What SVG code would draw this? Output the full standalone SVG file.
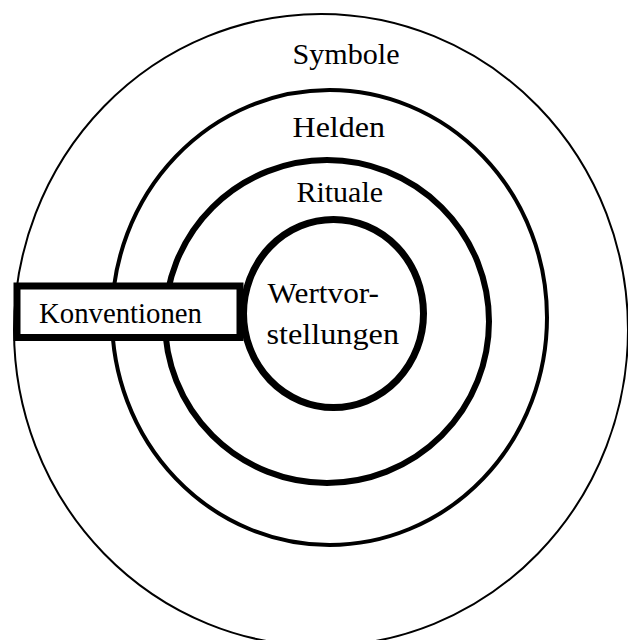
<svg xmlns="http://www.w3.org/2000/svg" width="628" height="640" viewBox="0 0 628 640">
  <style>
    .ring { fill: none; stroke: #000; }
    .lbl { font-family: "Liberation Serif", "Times New Roman", serif; font-size: 30px; fill: #000; }
  </style>
  <rect x="0" y="0" width="628" height="640" fill="#fff"/>
  <g id="symbole">
    <ellipse class="ring" cx="321" cy="330" rx="307" ry="316" stroke-width="2"/>
    <text class="lbl" x="292.5" y="64" textLength="107" lengthAdjust="spacingAndGlyphs">Symbole</text>
  </g>
  <g id="helden">
    <ellipse class="ring" cx="329.5" cy="317.5" rx="217.5" ry="227.5" stroke-width="4"/>
    <text class="lbl" x="292.5" y="137" textLength="92.5" lengthAdjust="spacingAndGlyphs">Helden</text>
  </g>
  <g id="rituale">
    <ellipse class="ring" cx="327" cy="321.5" rx="162" ry="161.5" stroke-width="6"/>
    <text class="lbl" x="296.5" y="201.5" textLength="86.5" lengthAdjust="spacingAndGlyphs">Rituale</text>
  </g>
  <g id="wertvorstellungen">
    <ellipse class="ring" cx="333.5" cy="313.5" rx="90" ry="94" stroke-width="7"/>
    <text class="lbl" x="267.5" y="303" textLength="111.5" lengthAdjust="spacingAndGlyphs">Wertvor-</text>
    <text class="lbl" x="266.5" y="344" textLength="132.5" lengthAdjust="spacingAndGlyphs">stellungen</text>
  </g>
  <g id="konventionen">
    <rect x="17" y="286" width="223" height="51.5" fill="#fff" stroke="#000" stroke-width="7"/>
    <text class="lbl" x="39" y="323" textLength="163" lengthAdjust="spacingAndGlyphs">Konventionen</text>
  </g>
  <g id="connectors"></g>
</svg>
